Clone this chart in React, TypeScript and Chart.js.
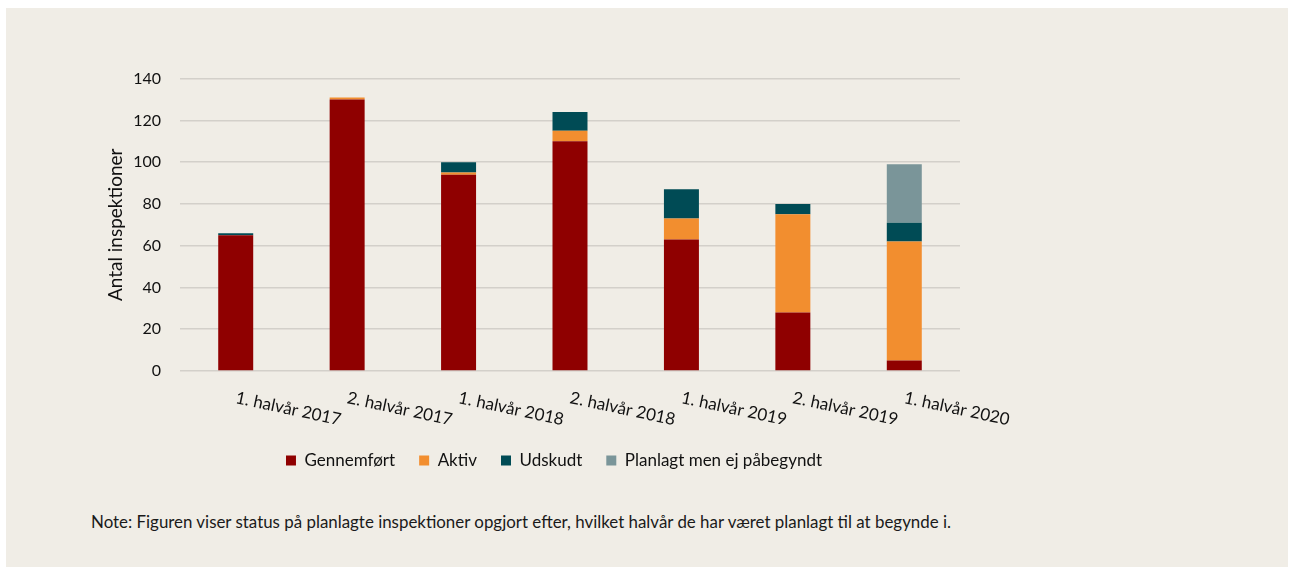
import React, { useEffect, useRef } from "react";
import { Chart, registerables } from "chart.js";

Chart.register(...registerables);

const categories = [
  "1. halvår 2017",
  "2. halvår 2017",
  "1. halvår 2018",
  "2. halvår 2018",
  "1. halvår 2019",
  "2. halvår 2019",
  "1. halvår 2020",
];
const gennemfoert = [65, 130, 94, 110, 63, 28, 5];
const aktiv = [0, 1, 1, 5, 10, 47, 57];
const udskudt = [1, 0, 5, 9, 14, 5, 9];
const planlagt = [0, 0, 0, 0, 0, 0, 28];
const yTicks = [0, 20, 40, 60, 80, 100, 120, 140];

const FONT = "Lato, 'Open Sans', sans-serif";
const TEXT = "#111111";

const rotatedLabels = {
  id: "rotatedLabels",
  afterDraw(chart: any) {
    const { ctx, chartArea } = chart;
    const xs = chart.scales.x;
    ctx.save();
    ctx.fillStyle = TEXT;
    ctx.font = `17px ${FONT}`;
    ctx.textAlign = "left";
    ctx.textBaseline = "alphabetic";
    categories.forEach((lab, i) => {
      const x = xs.getPixelForValue(i);
      ctx.save();
      ctx.translate(x - 1, chartArea.bottom + 32);
      ctx.rotate((12 * Math.PI) / 180);
      ctx.fillText(lab, 0, 0);
      ctx.restore();
    });
    ctx.restore();
  },
};

export default function App() {
  const ref = useRef<HTMLCanvasElement | null>(null);

  useEffect(() => {
    if (!ref.current) return;
    const chart = new Chart(ref.current, {
      type: "bar",
      data: {
        labels: categories,
        datasets: [
          { label: "Gennemført", data: gennemfoert, backgroundColor: "#8f0000" },
          { label: "Aktiv", data: aktiv, backgroundColor: "#f28e2f" },
          { label: "Udskudt", data: udskudt, backgroundColor: "#004b55" },
          { label: "Planlagt men ej påbegyndt", data: planlagt, backgroundColor: "#7a9599" },
        ],
      },
      options: {
        responsive: false,
        animation: false,
        layout: { padding: { top: 27, right: 0, left: 0, bottom: 11 } },
        datasets: { bar: { barPercentage: 0.314, categoryPercentage: 1 } },
        plugins: {
          tooltip: { enabled: false },
          legend: {
            position: "bottom",
            labels: {
              boxWidth: 10,
              boxHeight: 10,
              padding: 24,
              color: TEXT,
              font: { family: FONT, size: 17 },
            },
          },
        },
        scales: {
          x: {
            stacked: true,
            grid: { display: false },
            border: { display: false },
            ticks: { display: false },
            afterFit: (s: any) => {
              s.height = 57;
            },
          },
          y: {
            stacked: true,
            min: 0,
            max: 140,
            afterBuildTicks: (s: any) => {
              s.ticks = yTicks.map((v) => ({ value: v }));
            },
            afterFit: (s: any) => {
              s.width = 90;
            },
            grid: { color: "#d3d0ca", lineWidth: 1.5, drawTicks: false },
            border: { display: false },
            ticks: {
              padding: 19,
              color: TEXT,
              font: { family: FONT, size: 16 },
            },
            title: {
              display: true,
              text: "Antal inspektioner",
              color: TEXT,
              font: { family: FONT, size: 19 },
              padding: { top: 14, bottom: 0 },
            },
          },
          yRight: {
            type: "linear",
            position: "right",
            display: true,
            grid: { display: false },
            border: { display: false },
            ticks: { display: false },
            afterFit: (s: any) => {
              s.width = 58;
            },
          },
        },
      },
      plugins: [rotatedLabels],
    });
    return () => chart.destroy();
  }, []);

  return (
    <div
      style={{
        position: "absolute",
        left: 6,
        top: 8,
        width: 1282,
        height: 559,
        background: "#f0ede6",
      }}
    >
      <canvas
        ref={ref}
        width={928}
        height={440}
        style={{ position: "absolute", left: 84, top: 42, width: 928, height: 440 }}
      />
      <div
        style={{
          position: "absolute",
          left: 85,
          top: 503,
          fontFamily: FONT,
          fontSize: 16.9,
          color: "#1a1a1a",
          whiteSpace: "nowrap",
        }}
      >
        Note: Figuren viser status på planlagte inspektioner opgjort efter, hvilket halvår de har været planlagt til at begynde i.
      </div>
    </div>
  );
}
